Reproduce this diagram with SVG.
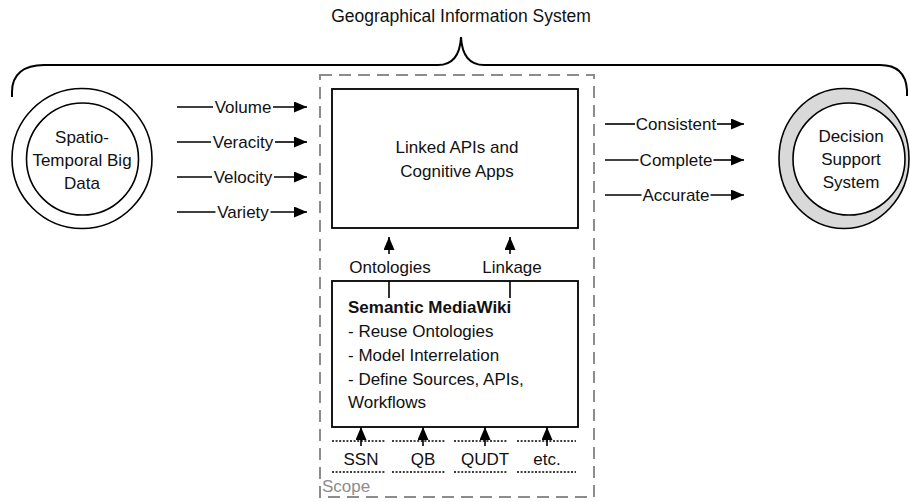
<svg xmlns="http://www.w3.org/2000/svg" width="910" height="502" viewBox="0 0 910 502">
<defs>
<marker id="ah" markerUnits="userSpaceOnUse" markerWidth="14" markerHeight="12" refX="13" refY="5.5" orient="auto">
<path d="M0,0 L13,5.5 L0,11 z" fill="#000"/>
</marker>
<style>
text{font-family:"Liberation Sans",Arial,sans-serif;font-size:17px;fill:#111}
.c{text-anchor:middle}
.ln{stroke:#000;stroke-width:1.6;fill:none}
.arr{stroke:#000;stroke-width:1.6;fill:none;marker-end:url(#ah)}
.dot{stroke:#000;stroke-width:1.5;stroke-dasharray:2 1.6;fill:none}
.box{fill:#fff;stroke:#000;stroke-width:1.8}
</style>
</defs>
<rect width="910" height="502" fill="#fff"/>

<g id="gis-brace">
<path d="M12,97 L12,92 C12,74 24,65 44,65 L438,65 C452,65 460,56 461,37 C462,56 470,65 484,65 L880,65 C898,65 906,75 907,90 L907,96" fill="none" stroke="#000" stroke-width="2"/>
<text class="c" x="461" y="22" style="font-size:17.5px">Geographical Information System</text>
</g>

<g id="scope">
<rect x="320" y="75" width="274" height="422" fill="none" stroke="#8c8c8c" stroke-width="2" stroke-dasharray="12 7"/>
<text x="322" y="492" style="fill:#8c8c8c">Scope</text>
</g>

<g id="big-data">
<circle cx="82" cy="158.5" r="70" fill="#fff" stroke="#000" stroke-width="1.6"/>
<circle cx="82.5" cy="159" r="56" fill="#fff" stroke="#000" stroke-width="1.6"/>
<text class="c" x="82" y="143">Spatio-</text>
<text class="c" x="82" y="166">Temporal Big</text>
<text class="c" x="82" y="189">Data</text>
</g>

<g id="dss">
<ellipse cx="844" cy="158.5" rx="65" ry="70" fill="#d9d9d9" stroke="#000" stroke-width="1.6"/>
<circle cx="849" cy="159" r="56" fill="#fff" stroke="#000" stroke-width="1.6"/>
<text class="c" x="851" y="142">Decision</text>
<text class="c" x="851" y="165">Support</text>
<text class="c" x="851" y="188">System</text>
</g>

<g id="linked-apis">
<rect class="box" x="332" y="89" width="246" height="139"/>
<text class="c" x="457" y="153">Linked APIs and</text>
<text class="c" x="457" y="177">Cognitive Apps</text>
</g>

<g id="smw">
<rect class="box" x="332" y="281" width="246" height="146"/>
<text x="348" y="313" style="font-weight:bold">Semantic MediaWiki</text>
<text x="348" y="337">- Reuse Ontologies</text>
<text x="348" y="361">- Model Interrelation</text>
<text x="348" y="385">- Define Sources, APIs,</text>
<text x="348" y="408">Workflows</text>
</g>

<g id="sources">
<path class="dot" d="M332,441 H385 M392,441 H445 M454,441 H508 M517,441 H576"/>
<path class="dot" d="M332,472 H385 M392,472 H445 M454,472 H508 M517,472 H576"/>
<text class="c" x="361" y="465">SSN</text>
<text class="c" x="423" y="465">QB</text>
<text class="c" x="485" y="465">QUDT</text>
<text class="c" x="547" y="465">etc.</text>
</g>

<g id="connectors">
<path class="ln" d="M177,107 H213"/><path class="arr" d="M273,107 H307"/>
<path class="ln" d="M177,142 H211"/><path class="arr" d="M275,142 H307"/>
<path class="ln" d="M177,177 H212"/><path class="arr" d="M274,177 H307"/>
<path class="ln" d="M177,212 H215.5"/><path class="arr" d="M270.5,212 H307"/>
<text class="c" x="243" y="113">Volume</text>
<text class="c" x="243" y="148">Veracity</text>
<text class="c" x="243" y="183">Velocity</text>
<text class="c" x="243" y="218">Variety</text>

<path class="ln" d="M605,124 H635"/><path class="arr" d="M717,124 H744"/>
<path class="ln" d="M605,160 H638.6"/><path class="arr" d="M713.4,160 H744"/>
<path class="ln" d="M605,195 H641.5"/><path class="arr" d="M710.5,195 H744"/>
<text class="c" x="676" y="130">Consistent</text>
<text class="c" x="676" y="166">Complete</text>
<text class="c" x="676" y="201">Accurate</text>

<path class="arr" d="M389,298 V281 M389,254 V237"/>
<path class="arr" d="M510,298 V281 M510,254 V237"/>
<text class="c" x="390" y="273">Ontologies</text>
<text class="c" x="512" y="273">Linkage</text>

<path class="arr" d="M361,446 V427"/>
<path class="arr" d="M423,446 V427"/>
<path class="arr" d="M485,446 V427"/>
<path class="arr" d="M547,446 V427"/>
</g>
</svg>
